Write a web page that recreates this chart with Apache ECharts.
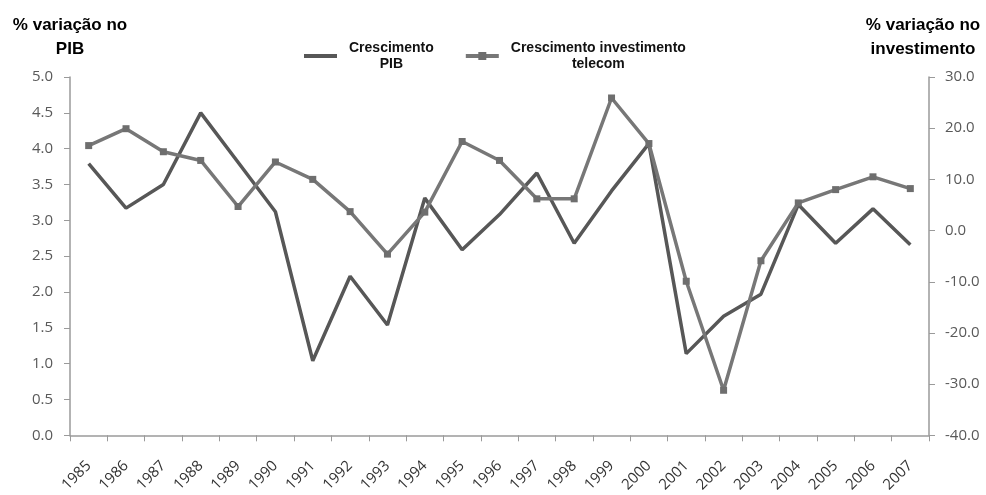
<!DOCTYPE html>
<html><head><meta charset="utf-8">
<script src="https://cdn.jsdelivr.net/npm/echarts@6/dist/echarts.min.js"></script>
<style>html,body{margin:0;padding:0;background:#fff}#c{width:986px;height:495px}</style>
</head><body><div id="c"></div>
<script>
const years = ['1985','1986','1987','1988','1989','1990','1991','1992','1993','1994','1995','1996','1997','1998','1999','2000','2001','2002','2003','2004','2005','2006','2007'];
const pib = [3.79,3.17,3.5,4.5,3.81,3.12,1.04,2.22,1.54,3.31,2.59,3.08,3.66,2.68,3.41,4.07,1.14,1.66,1.97,3.22,2.68,3.16,2.66];
const invest = [16.6,19.9,15.4,13.7,4.7,13.4,10.0,3.7,-4.6,3.6,17.4,13.7,6.2,6.2,25.9,17.0,-9.9,-31.2,-5.9,5.4,8.0,10.5,8.2];
const leftTicks = {min:0,max:5,interval:0.5};
const rightTicks = {min:-40,max:30,interval:10};
const names = ['Crescimento PIB','Crescimento investimento telecom'];
const legendLabels = {'Crescimento PIB':['Crescimento','PIB'],'Crescimento investimento telecom':['Crescimento investimento','telecom']};
const axisTitles = {left:['% variação no','PIB'], right:['% variação no','investimento']};

const chart = echarts.init(document.getElementById('c'));
const labelColor = '#595959';
const axisColor = '#9a9a9a';
const titleFont = 'bold 17px Liberation Sans';
chart.setOption({
  animation:false,
  backgroundColor:'#fff',
  textStyle:{fontFamily:'Liberation Sans'},
  grid:{left:70,right:57,top:77,bottom:58,containLabel:false},
  legend:{
    top:36,left:297,itemGap:30,itemWidth:33,itemHeight:10,
    lineStyle:{width:4},
    data:[{name:names[0],itemStyle:{color:'rgba(0,0,0,0)',borderWidth:0},lineStyle:{width:4,color:'#575757'}},{name:names[1],lineStyle:{width:4,color:'#777777'}}],
    formatter:function(n){return legendLabels[n].map(s=>'{a|'+s+'}').join('\n');},
    textStyle:{padding:[0,0,0,7],rich:{a:{align:'center',fontSize:14,fontWeight:'bold',color:'#111',fontFamily:'Liberation Sans',lineHeight:16}}}
  },
  graphic:[
    {type:'text',x:70,y:25,style:{text:axisTitles.left[0],font:titleFont,fill:'#000',align:'center',verticalAlign:'middle'}},
    {type:'text',x:70,y:49,style:{text:axisTitles.left[1],font:titleFont,fill:'#000',align:'center',verticalAlign:'middle'}},
    {type:'text',x:923,y:25,style:{text:axisTitles.right[0],font:titleFont,fill:'#000',align:'center',verticalAlign:'middle'}},
    {type:'text',x:923,y:49,style:{text:axisTitles.right[1],font:titleFont,fill:'#000',align:'center',verticalAlign:'middle'}}
  ],
  xAxis:{
    type:'category',data:years,boundaryGap:true,
    axisLine:{lineStyle:{color:axisColor,width:1.5}},
    axisTick:{show:true,alignWithLabel:false,length:6,lineStyle:{color:axisColor}},
    axisLabel:{rotate:45,interval:0,color:'#333',fontFamily:'Open Sans',fontSize:15,margin:28}
  },
  yAxis:[
    {type:'value',position:'left',min:leftTicks.min,max:leftTicks.max,interval:leftTicks.interval,
     axisLine:{show:true,lineStyle:{color:axisColor,width:1.5}},
     axisTick:{show:true,inside:false,length:6,lineStyle:{color:axisColor}},
     splitLine:{show:false},
     axisLabel:{formatter:v=>v.toFixed(1),color:labelColor,fontFamily:'Open Sans',fontSize:15,margin:17}},
    {type:'value',position:'right',min:rightTicks.min,max:rightTicks.max,interval:rightTicks.interval,
     axisLine:{show:true,lineStyle:{color:axisColor,width:1.5}},
     axisTick:{show:true,length:6,lineStyle:{color:axisColor}},
     splitLine:{show:false},
     axisLabel:{formatter:v=>v.toFixed(1),color:labelColor,fontFamily:'Open Sans',fontSize:15,margin:16}}
  ],
  series:[
    {name:names[0],type:'line',yAxisIndex:0,data:pib,symbol:'none',
     lineStyle:{color:'#575757',width:3.5},itemStyle:{color:'#575757'}},
    {name:names[1],type:'line',yAxisIndex:1,data:invest,symbol:'rect',symbolSize:7,
     lineStyle:{color:'#777777',width:3.5},itemStyle:{color:'#6e6e6e'}}
  ]
});
</script></body></html>
